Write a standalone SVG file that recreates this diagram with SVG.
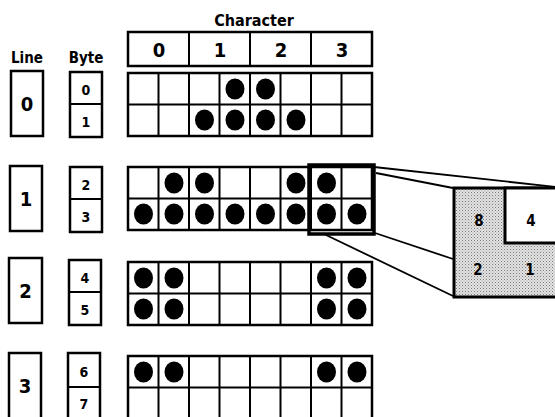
<svg xmlns="http://www.w3.org/2000/svg" width="555" height="417" viewBox="0 0 555 417">
<style>
.g{fill:#fff;stroke:#000;stroke-width:2.5}
.b{fill:none;stroke:#000;stroke-width:2}
.t{font-family:"DejaVu Sans Condensed","DejaVu Sans","Liberation Sans",sans-serif;font-weight:bold;fill:#000;text-anchor:middle}
.d{fill:#000}
.c{stroke:#000;stroke-width:1.8;fill:none}
</style>
<defs>
<pattern id="stip" width="3" height="3" patternUnits="userSpaceOnUse">
<rect width="3" height="3" fill="#e4e4e4"/>
<rect x="0" y="0" width="1" height="1" fill="#777"/>
<rect x="1.5" y="1.5" width="1" height="1" fill="#999"/>
</pattern>
<g id="grid">
<rect class="g" x="128" y="0" width="244" height="63"/>
<path class="b" d="M128 31.5H372M158.5 0V63M189 0V63M219.5 0V63M250 0V63M280.5 0V63M311 0V63M341.5 0V63"/>
</g>
</defs>

<g id="headers">
<text class="t" x="254" y="26" font-size="16">Character</text>
<text class="t" x="27" y="63" font-size="15">Line</text>
<text class="t" x="86" y="63" font-size="15">Byte</text>
</g>

<g id="char-header">
<rect class="g" x="128" y="32" width="244" height="34"/>
<path class="b" d="M189 32V66M250 32V66M311 32V66"/>
<text class="t" x="159" y="57" font-size="20">0</text>
<text class="t" x="220" y="57" font-size="20">1</text>
<text class="t" x="281" y="57" font-size="20">2</text>
<text class="t" x="342" y="57" font-size="20">3</text>
</g>

<g id="line0">
<rect class="g" x="11" y="71" width="32" height="65"/>
<text class="t" x="27" y="111" font-size="20">0</text>
<rect class="g" x="70" y="72" width="32" height="65"/>
<path class="b" d="M70 104H102"/>
<text class="t" x="86" y="95" font-size="14">0</text>
<text class="t" x="86" y="127" font-size="14">1</text>
<use href="#grid" y="73"/>
<ellipse class="d" cx="235" cy="89" rx="9.5" ry="10.5"/>
<ellipse class="d" cx="265.5" cy="89" rx="9.5" ry="10.5"/>
<ellipse class="d" cx="204.5" cy="120" rx="9.5" ry="10.5"/>
<ellipse class="d" cx="235" cy="120" rx="9.5" ry="10.5"/>
<ellipse class="d" cx="265.5" cy="120" rx="9.5" ry="10.5"/>
<ellipse class="d" cx="296" cy="120" rx="9.5" ry="10.5"/>
</g>

<g id="line1">
<rect class="g" x="10" y="166" width="32" height="65"/>
<text class="t" x="26" y="206" font-size="20">1</text>
<rect class="g" x="70" y="167" width="32" height="65"/>
<path class="b" d="M70 199H102"/>
<text class="t" x="86" y="190" font-size="14">2</text>
<text class="t" x="86" y="222" font-size="14">3</text>
<use href="#grid" y="167"/>
<ellipse class="d" cx="174" cy="183" rx="9.5" ry="10.5"/>
<ellipse class="d" cx="204.5" cy="183" rx="9.5" ry="10.5"/>
<ellipse class="d" cx="296" cy="183" rx="9.5" ry="10.5"/>
<ellipse class="d" cx="326.5" cy="183" rx="9.5" ry="10.5"/>
<ellipse class="d" cx="143.5" cy="214" rx="9.5" ry="10.5"/>
<ellipse class="d" cx="174" cy="214" rx="9.5" ry="10.5"/>
<ellipse class="d" cx="204.5" cy="214" rx="9.5" ry="10.5"/>
<ellipse class="d" cx="235" cy="214" rx="9.5" ry="10.5"/>
<ellipse class="d" cx="265.5" cy="214" rx="9.5" ry="10.5"/>
<ellipse class="d" cx="296" cy="214" rx="9.5" ry="10.5"/>
<ellipse class="d" cx="326.5" cy="214" rx="9.5" ry="10.5"/>
<ellipse class="d" cx="357" cy="214" rx="9.5" ry="10.5"/>
<rect x="309" y="165" width="65" height="69" fill="none" stroke="#000" stroke-width="3.5"/>
</g>

<g id="line2">
<rect class="g" x="9" y="258" width="33" height="65"/>
<text class="t" x="25.5" y="298" font-size="20">2</text>
<rect class="g" x="69" y="260" width="32" height="65"/>
<path class="b" d="M69 292H101"/>
<text class="t" x="85" y="283" font-size="14">4</text>
<text class="t" x="85" y="315" font-size="14">5</text>
<use href="#grid" y="262"/>
<ellipse class="d" cx="143.5" cy="278" rx="9.5" ry="10.5"/>
<ellipse class="d" cx="174" cy="278" rx="9.5" ry="10.5"/>
<ellipse class="d" cx="326.5" cy="278" rx="9.5" ry="10.5"/>
<ellipse class="d" cx="357" cy="278" rx="9.5" ry="10.5"/>
<ellipse class="d" cx="143.5" cy="309" rx="9.5" ry="10.5"/>
<ellipse class="d" cx="174" cy="309" rx="9.5" ry="10.5"/>
<ellipse class="d" cx="326.5" cy="309" rx="9.5" ry="10.5"/>
<ellipse class="d" cx="357" cy="309" rx="9.5" ry="10.5"/>
</g>

<g id="line3">
<rect class="g" x="9" y="353" width="32" height="70"/>
<text class="t" x="25" y="393" font-size="20">3</text>
<rect class="g" x="68" y="353" width="32" height="70"/>
<path class="b" d="M68 387H100"/>
<text class="t" x="84" y="377" font-size="14">6</text>
<text class="t" x="84" y="409" font-size="14">7</text>
<use href="#grid" y="356"/>
<ellipse class="d" cx="143.5" cy="372" rx="9.5" ry="10.5"/>
<ellipse class="d" cx="174" cy="372" rx="9.5" ry="10.5"/>
<ellipse class="d" cx="326.5" cy="372" rx="9.5" ry="10.5"/>
<ellipse class="d" cx="357" cy="372" rx="9.5" ry="10.5"/>
</g>

<g id="connectors">
<path class="c" d="M374 167L556 187"/>
<path class="c" d="M376 173L453 188"/>
<path class="c" d="M375 233L453 259"/>
<path class="c" d="M326 235L453 296"/>
</g>

<g id="zoom">
<rect x="454" y="188" width="103" height="109" fill="url(#stip)" stroke="#000" stroke-width="3"/>
<rect x="505" y="188" width="52" height="55" fill="#fff" stroke="#000" stroke-width="3"/>
<text class="t" x="479" y="226" font-size="15">8</text>
<text class="t" x="531" y="226" font-size="15">4</text>
<text class="t" x="478" y="275" font-size="15">2</text>
<text class="t" x="530" y="275" font-size="15">1</text>
</g>
</svg>
